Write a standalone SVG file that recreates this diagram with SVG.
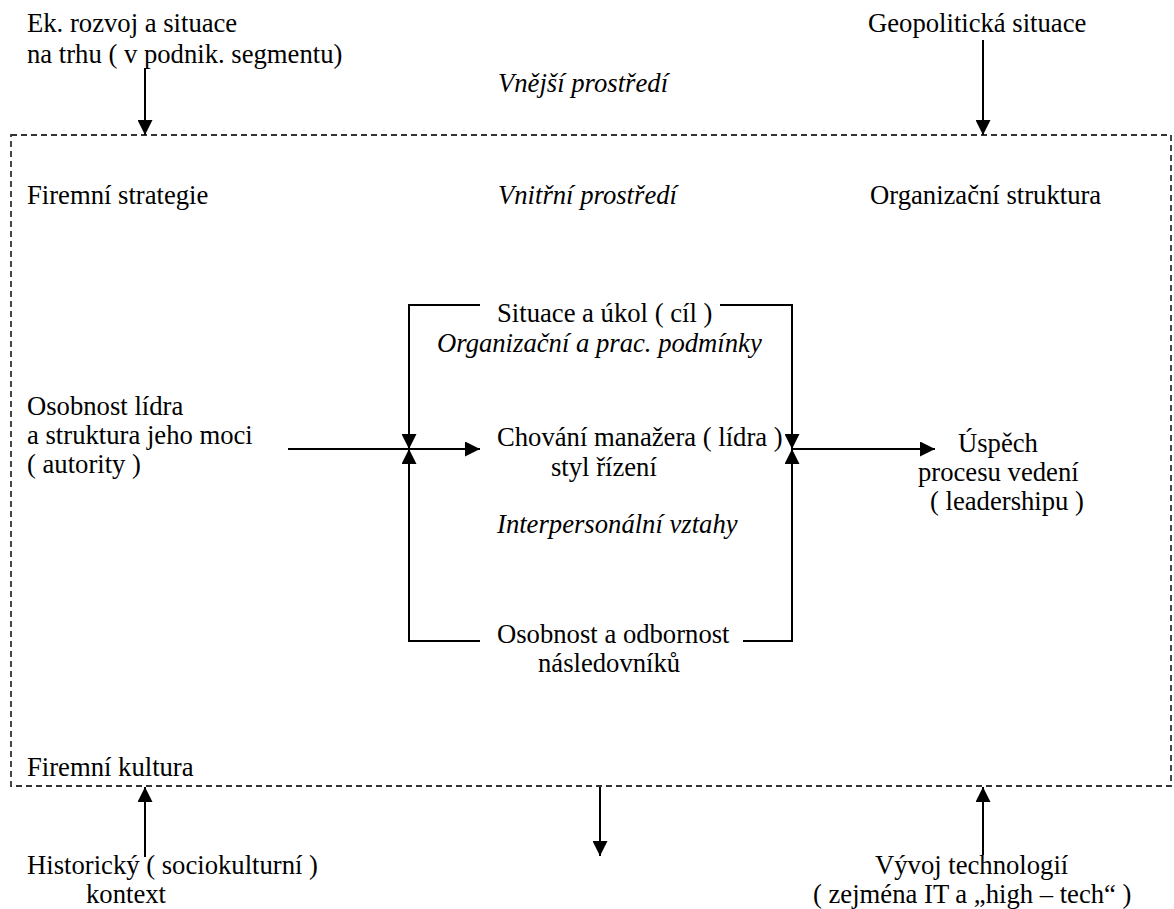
<svg xmlns="http://www.w3.org/2000/svg" width="1174" height="909" viewBox="0 0 1174 909">
<style>
text{font-family:"Liberation Serif","Times New Roman",serif;font-size:26.67px;fill:#000}
.it{font-style:italic}
.ln{stroke:#000;stroke-width:2;fill:none}
.dash{stroke:#333;stroke-width:1.8;fill:none;stroke-dasharray:6 4}
</style>
<defs>
<marker id="ah" markerUnits="userSpaceOnUse" markerWidth="16" markerHeight="15" refX="15" refY="7.5" orient="auto">
<path d="M0,0 L15,7.5 L0,15 z" fill="#000"/>
</marker>
</defs>
<rect id="boundary" class="dash" x="11" y="135" width="1160" height="651"/>
<g id="connectors">
<line class="ln" x1="145" y1="68" x2="145" y2="135" marker-end="url(#ah)"/>
<line class="ln" x1="983" y1="40" x2="983" y2="135" marker-end="url(#ah)"/>
<line class="ln" x1="145" y1="857" x2="145" y2="787" marker-end="url(#ah)"/>
<line class="ln" x1="600" y1="787" x2="600" y2="856" marker-end="url(#ah)"/>
<line class="ln" x1="983" y1="855" x2="983" y2="787" marker-end="url(#ah)"/>
<line class="ln" x1="288" y1="449" x2="480" y2="449" marker-end="url(#ah)"/>
<line class="ln" x1="792" y1="449" x2="935" y2="449" marker-end="url(#ah)"/>
<polyline class="ln" points="480,305 409,305 409,449" marker-end="url(#ah)"/>
<polyline class="ln" points="720,305 792,305 792,449" marker-end="url(#ah)"/>
<polyline class="ln" points="480,641 409,641 409,449" marker-end="url(#ah)"/>
<polyline class="ln" points="743,641 792,641 792,449" marker-end="url(#ah)"/>
</g>
<g id="ek-rozvoj"><text x="27" y="32">Ek. rozvoj a situace</text><text x="27" y="63">na trhu ( v podnik. segmentu)</text></g>
<g id="geopolitika"><text x="868" y="32">Geopolitická situace</text></g>
<g id="vnejsi"><text class="it" x="498" y="92">Vnější prostředí</text></g>
<g id="firemni-strategie"><text x="27" y="204">Firemní strategie</text></g>
<g id="vnitrni"><text class="it" x="498" y="204">Vnitřní prostředí</text></g>
<g id="org-struktura"><text x="870" y="204">Organizační struktura</text></g>
<g id="situace"><text x="497" y="322">Situace a úkol ( cíl )</text><text class="it" x="437" y="352">Organizační a prac. podmínky</text></g>
<g id="osobnost-lidra"><text x="27" y="415">Osobnost lídra</text><text x="27" y="444">a struktura jeho moci</text><text x="27" y="473">( autority )</text></g>
<g id="chovani"><text x="497" y="446">Chování manažera ( lídra )</text><text x="551" y="476">styl řízení</text></g>
<g id="uspech"><text x="958" y="452">Úspěch</text><text x="918" y="481">procesu vedení</text><text x="930" y="510">( leadershipu )</text></g>
<g id="interpersonalni"><text class="it" x="497" y="533">Interpersonální vztahy</text></g>
<g id="nasledovnici"><text x="497" y="643">Osobnost a odbornost</text><text x="538" y="672">následovníků</text></g>
<g id="firemni-kultura"><text x="27" y="776">Firemní kultura</text></g>
<g id="historicky"><text x="27" y="874">Historický ( sociokulturní )</text><text x="86" y="903">kontext</text></g>
<g id="technologie"><text x="875" y="874">Vývoj technologií</text><text x="813" y="903">( zejména IT a „high – tech“ )</text></g>
</svg>
